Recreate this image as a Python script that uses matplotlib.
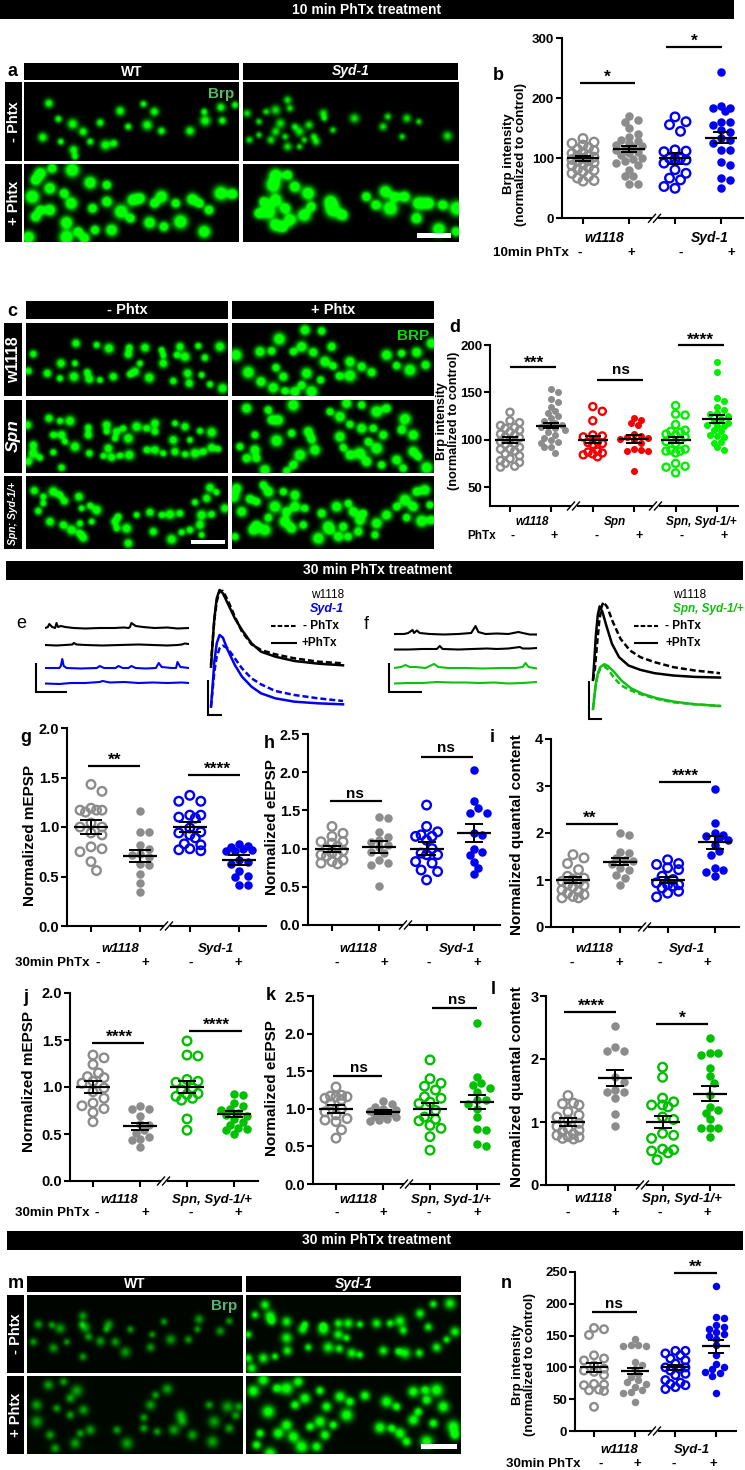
import numpy as np
import matplotlib
matplotlib.use("Agg")
import matplotlib.pyplot as plt
from matplotlib.lines import Line2D
from matplotlib.patches import Rectangle

plt.rcParams['font.family'] = ['Liberation Sans', 'DejaVu Sans']
plt.rcParams['font.weight'] = 'bold'
W, H = 745, 1470

GRAY, BLUE, RED, LIME, GREEN = '#8c8c8c', '#0000f5', '#f50000', '#00f000', '#00c000'

# ---- scatter data ----
b_w = [133,127,125,122,118,115,113,110,108,105,104,102,100,98,96,95,93,90,88,85,82,80,78,75,70,67,63,62]
b_wp = [171,163,160,150,141,135,130,128,125,122,120,118,115,113,110,108,105,100,98,95,92,88,80,70,70,57,57]
b_s = [169,161,156,145,114,112,111,100,100,98,97,92,81,75,67,64,53,50]
b_sp = [243,187,183,183,179,161,161,156,147,144,133,131,125,114,114,94,89,67,64,50]
d_w = [129,120,118,115,113,112,110,108,106,105,103,102,100,98,96,95,92,90,90,88,85,83,80,78,76,75,72,71]
d_wp = [154,150,143,140,135,130,128,125,123,120,118,116,115,113,112,110,108,105,102,100,98,97,92,92,86]
d_n = [135,130,120,105,104,103,98,97,96,95,88,87,86,85,84,82]
d_np = [123,121,118,116,106,104,103,102,101,100,97,90,89,88,88,67]
d_x = [136,127,126,116,110,109,108,106,105,103,102,100,98,96,90,89,88,88,86,75,72,71,65]
d_xp = [182,171,144,141,135,131,128,127,125,122,120,118,116,115,114,110,109,105,104,103,98,97,92,89]
g_1 = [1.43,1.36,1.19,1.17,1.17,1.17,1.15,1.04,1.0,1.0,.94,.92,.8,.78,.75,.65,.56]
g_2 = [1.16,.95,.95,.82,.78,.73,.72,.7,.63,.62,.53,.43,.34]
g_3 = [1.32,1.26,1.26,1.12,1.12,1.1,1.09,.99,.95,.94,.92,.89,.83,.82,.78,.77,.76]
g_4 = [.83,.81,.8,.78,.77,.76,.76,.67,.65,.63,.56,.51,.5,.41,.41]
h_1 = [1.29,1.2,1.16,1.09,1.09,1.07,1.03,1,.97,.94,.92,.92,.9,.85,.83,.81,.8]
h_2 = [1.42,1.40,1.22,1.15,1.11,1.09,1.05,1.02,.96,.94,.85,.81,.78,.51]
h_3 = [1.57,1.29,1.22,1.18,1.16,1.16,1.11,1,.94,.92,.92,.83,.81,.72,.7,.59]
h_4 = [2.03,1.62,1.53,1.47,1.47,1.2,1.18,1,.96,.92,.83,.75,.67]
i_1 = [1.54,1.47,1.35,1.22,1.08,1.04,1.02,.97,.94,.9,.88,.85,.79,.76,.72,.69,.65,.62,.62]
i_2 = [2.01,1.96,1.57,1.59,1.47,1.43,1.4,1.33,1.25,1.22,1.11,1.04,.9]
i_3 = [1.43,1.35,1.33,1.26,1.22,1.08,1.01,.94,.9,.9,.87,.83,.76,.72,.64]
i_4 = [2.94,2.21,2,1.96,1.93,1.89,1.86,1.75,1.61,1.54,1.26,1.22,1.18,1.09]
j_1 = [1.34,1.31,1.24,1.15,1.11,1.1,1.06,1.04,.99,.95,.88,.83,.8,.77,.73,.63]
j_2 = [.8,.77,.77,.69,.61,.6,.54,.51,.47,.45,.44,.36]
j_3 = [1.49,1.34,1.33,1.08,1.06,1.05,.99,.97,.93,.92,.9,.88,.86,.66,.54]
j_4 = [.93,.92,.83,.8,.77,.76,.72,.7,.69,.66,.63,.6,.56,.55,.54,.5]
k_1 = [1.29,1.18,1.17,1.16,1.16,1.14,1.12,1.07,1,.96,.92,.87,.85,.83,.72,.61]
k_2 = [1.1,1.06,1.03,1,.99,.97,.96,.95,.94,.93,.91,.89,.87,.85,.84]
k_3 = [1.65,1.4,1.34,1.3,1.25,1.16,1.14,1.09,1.07,.98,.89,.86,.84,.78,.74,.63,.45]
k_4 = [2.14,1.42,1.34,1.31,1.27,1.23,1.12,1.12,1.07,1,.89,.73,.72,.53,.5]
l_1 = [1.42,1.3,1.29,1.27,1.16,1.11,1.08,1.03,.98,.93,.9,.87,.85,.81,.79,.77,.76,.74,.73]
l_2 = [2.53,2.19,2.13,2.13,1.72,1.64,1.51,1.48,1.47,1.38,1.13,.94]
l_3 = [1.87,1.71,1.38,1.32,1.27,1.27,1.24,1.08,1.04,.82,.79,.74,.57,.56,.54,.51,.4]
l_4 = [2.34,2.1,2.09,2.06,1.86,1.73,1.62,1.43,1.24,1.19,1.14,1.04,.91,.91,.9,.76]
n_1 = [162,160,151,119,114,111,103,98,95,93,88,74,73,72,65,64,63,38]
n_2 = [145,136,135,133,133,108,103,98,90,85,80,77,74,69,65,61,59,46]
n_3 = [126,126,122,119,114,111,106,100,100,98,95,90,88,80,76,74,72,69,66]
n_4 = [228,180,177,166,164,161,156,153,150,145,135,119,106,100,98,93,91,86,60]

means_b, sems_b = [100,115,100,134], [4,5,9,9]
means_d, sems_d = [100,115,100,101,100,122], [3,3,4,4,3,4]
means_g, sems_g = [1,.71,1,.67], [.07,.06,.05,.05]
means_h, sems_h = [1,1.02,1,1.2], [.04,.08,.08,.12]
means_i, sems_i = [1,1.39,1,1.8], [.07,.08,.07,.14]
means_j, sems_j = [1,.58,1,.71], [.06,.04,.06,.03]
means_k, sems_k = [1,.96,1,1.09], [.05,.03,.08,.09]
means_l, sems_l = [1,1.7,1,1.45], [.06,.13,.1,.12]
means_n, sems_n = [100,94,100,133], [7,5,4,10]

# ---- electrophysiology traces ----
epsp_t = [0,3,7,12,18,25,35,50,65,85,105,135,175,225,277]
e_black_solid = [145,210,290,350,375,365,335,290,255,215,190,175,162,154,149]
e_black_dash = [150,215,285,340,372,372,345,295,250,212,195,182,170,160,155]
e_blue_solid = [25,80,160,215,240,232,195,150,115,85,65,50,40,35,32]
e_blue_dash = [25,70,130,175,200,208,200,170,140,110,92,72,60,50,42]
f_t1 = [0,3,6,10,14,20,28,40,55,75,100,130,170,215,268]
f_black_solid = [117,180,250,310,337,320,280,225,185,160,147,137,130,126,124]
f_t2 = [0,4,8,13,18,22,30,42,58,78,100,130,170,215,268]
f_black_dash = [117,150,215,290,335,350,335,290,240,205,185,170,155,145,137]
f_t3 = [0,3,6,10,15,24,32,45,60,80,105,135,170,215,268]
f_green_solid = [30,70,105,135,155,164,158,140,115,92,75,62,52,44,39]
f_green_dash = [30,70,105,132,150,157,148,122,100,85,72,60,50,44,39]

e1_t = [0,2,3,5,7,8,9,11,14,20,28,38,48,55,58,59,60,63,68,76,85,92,100]
e1_v = [0,1,4,1,0,5,1,2,1,0,-.5,0,0,.5,0,1,5,2,1,0,.5,-.5,0]
e2_t = [0,8,14,19,20,22,28,40,52,65,75,85,92,95,97,100]
e2_v = [0,-.5,0,.5,2,.5,0,-.5,0,.5,0,-.5,0,.5,1.5,1]
e3_t = [0,6,10,11,12,13,15,25,36,38,41,49,51,54,58,60,63,70,77,79,81,88,91,92,94,100]
e3_v = [0,0,0,2,9,2,0,-.5,0,2,0,0,2,0,0,2,0,-.5,0,5,1,0,0,6,1,0]
e4_t = [0,10,18,28,38,40,45,55,65,75,85,95,100]
e4_v = [-.5,-1,0,0,1,2,.5,1,0,.5,0,.5,0]
f1_t = [0,7,10,13,14,16,18,25,35,45,54,57,59,64,72,80,87,90,95,100]
f1_v = [0,0,1,4,1,3.5,1,0,-.5,0,1,8,2,0,.5,0,2,1,-.5,-.5]
f2_t = [0,10,20,30,32,34,45,55,65,72,80,88,90,95,100]
f2_v = [-.5,-.5,0,0,3,0,-.5,0,.5,0,.5,2,.5,.5,1]
f3_t = [0,5,8,11,15,22,28,31,38,50,62,75,85,90,92,94,100]
f3_v = [0,1,3,1,1,0,4,1,0,0,-.5,0,0,1,5,1,-.5]
f4_t = [0,10,20,30,40,50,60,70,80,90,100]
f4_v = [-.5,0,0,1,.5,.5,0,.5,-.5,0,1]

# ---- microscopy puncta ----
a_wt_m = [(103,310),(123,357),(153,372),(211,368),(253,333),(302,312),(325,335),(270,380),(310,375),(340,393),(400,393),(430,335),(465,322),(495,315),(432,362),(468,362),(90,412),(128,425),(175,395),(190,425),(222,435),(240,430),(155,450),(158,470)]
a_sy_m = [(605,300),(560,335),(580,330),(610,325),(680,340),(682,355),(520,340),(545,365),(590,370),(620,380),(650,375),(545,405),(570,420),(600,410),(630,395),(660,410),(605,440),(640,420),(665,425),(700,390),(745,355),(815,350),(855,355),(880,365),(805,380),(845,410),(940,408),(525,420),(580,395),(630,440)]
a_wt_p = [(85,520),(110,505),(152,510),(75,540),(190,548),(225,555),(105,565),(135,580),(68,590),(225,605),(150,610),(85,630),(105,630),(195,625),(255,635),(75,650),(140,668),(200,690),(235,690),(165,695),(140,712),(178,715),(60,712),(275,655),(315,668),(345,680),(380,665),(295,595),(340,590),(370,610),(405,598),(440,630),(465,580),(490,582),(430,695),(420,610),(280,600),(325,610)]
a_sy_p = [(580,525),(605,525),(575,555),(620,560),(648,580),(555,605),(580,600),(545,640),(565,635),(600,625),(640,645),(655,620),(580,675),(595,682),(700,630),(720,645),(695,605),(770,590),(810,575),(790,615),(820,625),(850,590),(880,610),(830,590),(900,610),(930,615),(960,625),(875,655),(922,688),(958,695),(610,660)]
c_1m = [(228,145),(290,150),(327,160),(388,158),(435,158),(485,165),(540,155),(595,153),(660,155),(100,177),(183,205),(225,205),(385,178),(530,180),(555,185),(615,188),(490,205),(420,205),(142,235),(180,250),(222,245),(262,232),(268,252),(300,255),(340,245),(390,238),(448,248),(520,258),(563,235),(605,240),(568,265),(630,268),(668,280),(85,228),(405,230),(490,180)]
c_1p = [(915,105),(965,108),(838,132),(995,155),(905,155),(880,170),(780,170),(815,168),(708,180),(940,172),(975,200),(1000,213),(1050,200),(828,218),(745,232),(850,245),(920,235),(962,255),(783,260),(1018,243),(1050,242),(1115,232),(820,278),(855,288),(885,290),(905,270),(935,290),(1085,215),(1160,180),(1205,175),(1250,172),(1190,212),(1230,225),(1277,210),(1295,145)]
c_2m = [(147,370),(180,378),(210,378),(265,398),(320,390),(320,410),(350,410),(370,400),(410,395),(440,400),(465,385),(525,385),(555,395),(600,408),(635,412),(160,420),(185,420),(195,440),(265,420),(345,430),(385,430),(465,410),(520,435),(570,435),(100,450),(160,472),(225,455),(268,475),(325,460),(310,483),(335,487),(360,482),(388,480),(440,465),(465,465),(490,475),(525,470),(555,478),(585,475),(610,470),(635,458),(655,462),(85,500),(120,488),(100,475),(185,518),(82,390)]
c_2p = [(740,340),(805,345),(880,330),(815,375),(835,375),(990,350),(1040,325),(1085,330),(1130,350),(1160,340),(1020,365),(1050,388),(1085,400),(1120,400),(1215,372),(1205,405),(1240,420),(765,420),(925,410),(875,415),(830,437),(935,432),(945,465),(720,455),(765,465),(770,490),(900,480),(880,510),(1020,425),(1030,458),(1050,480),(1105,440),(1130,460),(1150,420),(1240,470),(1255,485),(1190,495),(1145,510),(1280,518),(740,490),(795,525),(860,528),(1100,500),(1210,520),(1080,475)]
c_3m = [(103,587),(130,605),(160,590),(180,600),(237,605),(130,625),(193,618),(270,632),(290,645),(115,648),(150,680),(245,640),(190,690),(240,685),(215,705),(240,715),(250,728),(275,680),(345,680),(350,700),(380,700),(355,665),(385,745),(410,660),(450,652),(485,660),(510,658),(540,655),(630,578),(650,592),(620,610),(585,622),(605,660),(635,658),(600,690),(605,720),(460,710),(545,712),(515,733),(570,705),(675,640)]
c_3p = [(710,580),(790,570),(700,605),(750,612),(805,590),(850,590),(885,600),(770,620),(825,635),(860,650),(885,635),(915,640),(725,650),(805,668),(855,680),(770,690),(760,705),(705,725),(875,700),(910,690),(795,705),(965,655),(1010,635),(1045,625),(1060,650),(1090,655),(985,695),(1030,695),(1080,675),(990,705),(1015,725),(1045,725),(955,730),(1075,710),(1130,685),(1125,720),(1160,660),(1190,635),(1215,615),(1250,590),(1275,585),(1290,630),(1240,635),(1220,668),(1265,678),(1295,675)]
m_wt_m = [(115,300),(155,302),(180,312),(100,352),(160,370),(200,352),(248,275),(245,300),(255,310),(265,337),(325,300),(318,315),(345,352),(390,315),(375,382),(248,396),(300,350),(455,330),(450,368),(490,292),(510,345),(563,345),(595,285),(590,315),(658,320),(685,290)]
m_sy_m = [(795,242),(765,272),(810,275),(815,290),(860,292),(915,300),(908,315),(970,305),(970,315),(1015,297),(1045,297),(1080,300),(1130,297),(1170,297),(1200,290),(1210,318),(1015,330),(1040,340),(1260,268),(1300,240),(1350,238),(1285,308),(1365,322),(1340,345),(1310,368),(745,330),(860,340),(745,400),(790,400),(825,395),(862,378),(925,368),(985,368),(1018,372),(1055,385),(1080,390),(1150,378),(1195,380),(1215,385),(1258,385),(755,430)]
m_wt_p = [(145,480),(190,470),(230,497),(210,520),(110,540),(170,550),(250,555),(210,570),(110,590),(150,630),(225,655),(240,625),(270,615),(350,615),(380,655),(165,670),(500,492),(465,510),(450,540),(625,540),(680,545),(715,545),(540,570),(430,578),(545,590),(705,572),(640,590),(685,610),(520,615),(470,620),(575,630),(430,610),(635,650)]
m_sy_p = [(790,465),(830,490),(860,490),(895,470),(760,498),(960,497),(915,520),(885,540),(805,560),(980,545),(960,590),(930,605),(1020,515),(1050,530),(1040,570),(1095,512),(1160,530),(1190,545),(1240,500),(1275,495),(1310,495),(1280,525),(1330,545),(1255,560),(1240,585),(1300,595),(1360,605),(1365,630),(1140,608),(1175,610),(1200,625),(1220,650),(1280,650),(975,630),(880,635),(780,625),(835,625),(770,660),(905,665),(950,665),(810,685),(1000,600),(860,600)]

fig = plt.figure(figsize=(W/100, H/100), dpi=100, facecolor='white')


def axpx(x0, y0, x1, y1, **kw):
    return fig.add_axes([x0/W, 1-y1/H, (x1-x0)/W, (y1-y0)/H], **kw)


def txt(x, y, s, ha='center', va='center', size=10, color='k', style='normal', rot=0, weight='bold'):
    fig.text(x/W, 1-y/H, s, ha=ha, va=va, fontsize=size, color=color, style=style,
             rotation=rot, fontweight=weight, zorder=12, linespacing=1.05)


def line(x0, y0, x1, y1, lw=1.5, color='k', **kw):
    fig.add_artist(Line2D([x0/W, x1/W], [1-y0/H, 1-y1/H], lw=lw, color=color,
                          transform=fig.transFigure, solid_capstyle='butt', zorder=9, **kw))


def box(x0, y0, x1, y1, color='k', z=5):
    fig.add_artist(Rectangle((x0/W, 1-y1/H), (x1-x0)/W, (y1-y0)/H, facecolor=color,
                             edgecolor='none', transform=fig.transFigure, zorder=z))


def image(x0, y0, x1, y1, blobs, ox, oy, sx, sy, sigma=3.2, amp=1.6, bg=0.0):
    nx, ny = int((x1-x0)*2), int((y1-y0)*2)
    yy, xx = np.mgrid[0:ny, 0:nx]
    xx = x0 + (xx+.5)/2
    yy = y0 + (yy+.5)/2
    v = np.full(xx.shape, float(bg))
    sizes = (1.0, .82, 1.18, .9, 1.06, .78)
    for k, (zx, zy) in enumerate(blobs):
        px, py = ox + zx/sx, oy + zy/sy
        s = sigma*sizes[k % 6]
        v += amp*np.exp(-((xx-px)**2+(yy-py)**2)/(2*s*s))
    v = np.clip(v, 0, 1)
    rgb = np.dstack([v*0.02, v, v*0.02])
    ax = axpx(x0, y0, x1, y1)
    ax.imshow(rgb, aspect='auto', interpolation='bilinear')
    ax.axis('off')


def swarm(vals, ppu, diam, maxw):
    order = np.argsort(vals)[::-1]
    placed = []
    off = np.zeros(len(vals))
    step = diam*0.5
    n = int(maxw/step)
    cands = [0.0]
    for i in range(1, n+1):
        cands += [i*step, -i*step]
    for idx in order:
        y = vals[idx]*ppu
        best, bd = 0.0, -1
        for c in cands:
            d = min([np.hypot(c-px, y-py) for px, py in placed] or [1e9])
            if d >= diam*0.82:
                best, bd = c, d
                break
            if d > bd:
                best, bd = c, d
        off[idx] = best
        placed.append((best, y))
    return off


def panel(x_ax, y_top, x_end, y_bot, ylim, yticks, fmt, t0, sp, groups, cols, fills, means, sems,
          breaks=(), dot=8.5, ring=11, tsize=10.5, hw=16, cw=8, maxw=16):
    ax = axpx(x_ax, y_top, x_end, y_bot)
    ax.patch.set_alpha(0)
    ax.set_ylim(*ylim)
    ax.set_xlim((x_ax-t0)/sp, (x_end-t0)/sp)
    ppu = (y_bot-y_top)/(ylim[1]-ylim[0])
    for i, (vals, c, f) in enumerate(zip(groups, cols, fills)):
        v = np.array(vals, float)
        off = swarm(v, ppu, dot if f else ring, maxw)/sp
        if f:
            ax.scatter(i+off, v, s=(dot*.72)**2, c=c, linewidths=0, clip_on=False, zorder=3)
        else:
            d = ring-2.4
            ax.scatter(i+off, v, s=(d*.72)**2, facecolors='none', edgecolors=c, linewidths=1.7,
                       clip_on=False, zorder=3)
        ax.plot([i-hw/sp, i+hw/sp], [means[i]]*2, color='k', lw=1.6, zorder=4, solid_capstyle='butt')
        ax.plot([i, i], [means[i]-sems[i], means[i]+sems[i]], color='k', lw=1.4, zorder=4)
        for s in (-1, 1):
            ax.plot([i-cw/sp, i+cw/sp], [means[i]+s*sems[i]]*2, color='k', lw=1.4, zorder=4,
                    solid_capstyle='butt')
    for s in ('top', 'right'):
        ax.spines[s].set_visible(False)
    for s in ('left', 'bottom'):
        ax.spines[s].set_linewidth(1.5)
    ax.set_yticks(yticks)
    ax.set_yticklabels([fmt % t for t in yticks], fontsize=tsize, fontweight='bold')
    ax.set_xticks(range(len(groups)))
    ax.set_xticklabels([])
    ax.tick_params(length=4, width=1.5, pad=1.5)
    for bx in breaks:
        box(bx-3, y_bot-2, bx+3, y_bot+2, 'white', 6)
        for dx in (-3, 2):
            fig.add_artist(Line2D([(bx+dx-3.5)/W, (bx+dx+3.5)/W], [1-(y_bot+4)/H, 1-(y_bot-4)/H], lw=1,
                                  color='k', transform=fig.transFigure, zorder=7))
    return ax


def sig(x0, x1, y, label, lx, ly):
    line(x0, y, x1, y, lw=1.6)
    if label == 'ns':
        txt(lx, ly+4.5, 'ns', va='baseline', size=11)
    else:
        txt(lx, ly+9.5, label, va='baseline', size=12.5)


def trace(x0, y0, x1, y1, xlim, ylim, series):
    ax = axpx(x0, y0, x1, y1)
    ax.patch.set_alpha(0)
    ax.set_xlim(*xlim)
    ax.set_ylim(*ylim)
    ax.axis('off')
    for t, v, c, ls in series:
        ax.plot(t, v, color=c, lw=1.8, ls=ls, clip_on=False,
                **({'dashes': (2.4, 1.2)} if ls == '--' else {}))


def mini(x0, x1, yc, t, v, c):
    ax = axpx(x0, yc-12, x1, yc+12)
    ax.patch.set_alpha(0)
    ax.set_xlim(0, 100)
    ax.set_ylim(-12, 12)
    ax.axis('off')
    ax.plot(t, v, color=c, lw=1.5)


# -------- banners --------
box(0, 0, 734, 19)
txt(367, 9.5, '10 min PhTx treatment', color='w', size=10)
box(6, 561, 743, 580)
txt(378, 570.5, '30 min PhTx treatment', color='w', size=10)
box(7, 1231, 743, 1250)
txt(377, 1240.5, '30 min PhTx treatment', color='w', size=10)

# -------- panel a --------
for (x0, x1, s, st) in [(24, 239, 'WT', 'normal'), (243, 458, 'Syd-1', 'italic')]:
    box(x0, 63, x1, 80)
    txt((x0+x1)/2, 71.5, s, color='w', size=10, style=st)
for (y0, y1, s) in [(82, 161, '- Phtx'), (164, 242, '+ Phtx')]:
    box(5, y0, 22, y1)
    txt(13.5, (y0+y1)/2, s, color='w', size=10.5, rot=90)
image(24, 82, 239, 161, a_wt_m, 0, 0, 2.105, 3, 3.0, 1.2)
image(243, 82, 458, 161, a_sy_m, 0, 0, 2.105, 3, 2.8, 0.95)
image(24, 164, 239, 242, a_wt_p, 0, 0, 2.105, 3, 3.9, 1.7)
image(243, 164, 458, 242, a_sy_p, 0, 0, 2.105, 3, 4.1, 1.7)
box(417, 233, 451, 238, 'white', 8)
txt(221, 94, 'Brp', color='#55bb66', size=11)
txt(12, 71, 'a', size=13)

# -------- panel b --------
panel(561.5, 38.3, 743, 218.3, (0, 300), [0, 100, 200, 300], '%d', 583, 46,
      [b_w, b_wp, b_s, b_sp], [GRAY, GRAY, BLUE, BLUE], [0, 1, 0, 1], means_b, sems_b, breaks=[655],
      dot=8.5, ring=11, tsize=9.5, hw=16, cw=8, maxw=14)
sig(580, 635, 83, '*', 607, 72)
sig(666, 722, 47, '*', 694, 36)
txt(498, 75, 'b', size=13)
txt(515, 154, 'Brp intensity\n(normalized to control)', size=9.5, rot=90)
txt(604, 238, 'w1118', size=10, style='italic')
txt(710, 238, 'Syd-1', size=10, style='italic')
txt(493, 253, '10min PhTx', ha='left', size=9.7)
for x, s in zip([580, 631, 681, 731], '-+-+'):
    txt(x, 253, s, size=9.5)

# -------- panel c --------
for (x0, x1, s) in [(26, 228, '- Phtx'), (232, 434, '+ Phtx')]:
    box(x0, 301, x1, 319)
    txt((x0+x1)/2, 310, s, color='w', size=10.5)
box(4, 323, 22, 396)
box(4, 400, 22, 473)
box(4, 476, 22, 549)
txt(13.5, 360, 'w1118', color='w', size=11.5, rot=90)
txt(13.5, 436, 'Spn', color='w', size=12.5, rot=90, style='italic')
txt(13.5, 513, 'Spn; Syd-1/+', color='w', size=7.5, rot=90, style='italic')
rows = [(323, 396, c_1m, c_1p), (400, 473, c_2m, c_2p), (476, 549, c_3m, c_3p)]
for y0, y1, bm, bp in rows:
    image(26, y0, 228, y1, bm, 0, 295, 3, 3, 2.9, 1.4)
    image(232, y0, 434, y1, bp, 0, 295, 3, 3, 3.4, 1.6)
box(191, 540, 225, 544, 'white', 8)
txt(413, 336, 'BRP', color='#00e000', size=11)
txt(12, 312, 'c', size=13)

# -------- panel d --------
panel(490, 345, 738, 506, (30, 200), [50, 100, 150, 200], '%d', 510, 41.4,
      [d_w, d_wp, d_n, d_np, d_x, d_xp], [GRAY, GRAY, RED, RED, LIME, LIME], [0, 1, 0, 1, 0, 1],
      means_d, sems_d, breaks=[574, 656], dot=7, ring=9.5, tsize=9.5, hw=15, cw=8, maxw=14)
sig(510, 556, 367, '***', 534, 358)
sig(597, 643, 380, 'ns', 621, 370)
sig(678, 724, 345, '****', 700, 335)
txt(455, 327, 'd', size=13)
txt(448, 421, 'Brp intensity\n(normalized to control)', size=9.2, rot=90)
txt(532, 522, 'w1118', size=8.5, style='italic')
txt(615, 522, 'Spn', size=8.5, style='italic')
txt(701, 522, 'Spn, Syd-1/+', size=8.5, style='italic')
txt(467, 536, 'PhTx', ha='left', size=8.5)
for x, s in zip([513, 554, 597, 639, 682, 724], '-+-+-+'):
    txt(x, 536, s, size=9)

# -------- panel e --------
txt(21, 624, 'e', size=13, weight='normal')
mini(45, 189, 628, e1_t, e1_v, 'k')
mini(45, 189, 645, e2_t, e2_v, 'k')
mini(45, 189, 668, e3_t, e3_v, BLUE)
mini(45, 189, 683, e4_t, e4_v, BLUE)
line(36, 663, 36, 692)
line(35.3, 692, 67, 692)
trace(211, 590, 343, 715, (0, 277), (0, 375),
      [(epsp_t, e_black_dash, 'k', '--'), (epsp_t, e_black_solid, 'k', '-'),
       (epsp_t, e_blue_dash, BLUE, '--'), (epsp_t, e_blue_solid, BLUE, '-')])
line(208, 680, 208, 715)
line(207.3, 715, 222, 715)
txt(328, 595, 'w1118', size=8.5, weight='normal')
txt(327, 609, 'Syd-1', size=9, color=BLUE, style='italic')
line(271, 626, 297, 626, ls=(0, (2.2, 1)))
txt(303, 626, '- PhTx', ha='left', size=8.5)
line(271, 643, 297, 643)
txt(302, 643, '+PhTx', ha='left', size=8.5)

# -------- panel f --------
txt(366, 625, 'f', size=13, weight='normal')
mini(394, 537, 634, f1_t, f1_v, 'k')
mini(394, 537, 649, f2_t, f2_v, 'k')
mini(394, 537, 668, f3_t, f3_v, '#10c010')
mini(394, 537, 683, f4_t, f4_v, '#10c010')
line(389, 663, 389, 692)
line(388.3, 692, 422, 692)
trace(593, 602, 720, 719, (0, 268), (0, 350),
      [(f_t2, f_black_dash, 'k', '--'), (f_t1, f_black_solid, 'k', '-'),
       (f_t3, f_green_dash, '#10c010', '--'), (f_t3, f_green_solid, '#10c010', '-')])
line(589, 681, 589, 719)
line(588.3, 719, 602, 719)
txt(690, 595, 'w1118', size=8.5, weight='normal')
txt(708, 609, 'Spn, Syd-1/+', size=8.5, color='#10c010', style='italic')
line(634, 626, 658, 626, ls=(0, (2.2, 1)))
txt(665, 626, '- PhTx', ha='left', size=8.5)
line(634, 643, 658, 643)
txt(665, 643, '+PhTx', ha='left', size=8.5)

# -------- panel g --------
panel(67, 728, 266, 926, (0, 2), [0, .5, 1, 1.5, 2], '%.1f', 91, 49.4,
      [g_1, g_2, g_3, g_4], [GRAY, GRAY, BLUE, BLUE], [0, 1, 0, 1], means_g, sems_g, breaks=[167],
      hw=17, cw=11, maxw=16)
sig(88, 140, 766, '**', 115, 755)
sig(188, 240, 775, '****', 217, 764)
txt(26, 737, 'g', size=13)
txt(30, 835, 'Normalized mEPSP', size=11, rot=90)
txt(120, 949, 'w1118', size=9.5, style='italic')
txt(216, 949, 'Syd-1', size=9.5, style='italic')
txt(15, 963, '30min PhTx', ha='left', size=9.5)
for x, s in zip([98, 145, 191, 238], '-+-+'):
    txt(x, 963, s, size=9.5)

# -------- panel h --------
panel(308, 734, 500, 925, (0, 2.5), [0, .5, 1, 1.5, 2, 2.5], '%.1f', 332, 47.3,
      [h_1, h_2, h_3, h_4], [GRAY, GRAY, BLUE, BLUE], [0, 1, 0, 1], means_h, sems_h, breaks=[406],
      hw=17, cw=9, maxw=16)
sig(330, 382, 801, 'ns', 355, 793)
sig(421, 473, 757, 'ns', 446, 748)
txt(269, 743, 'h', size=13)
txt(272, 827, 'Normalized eEPSP', size=11, rot=90)
txt(358, 949, 'w1118', size=9.5, style='italic')
txt(457, 949, 'Syd-1', size=9.5, style='italic')
for x, s in zip([337, 384, 429, 477], '-+-+'):
    txt(x, 963, s, size=9.5)

# -------- panel i --------
panel(551, 739, 739, 927, (0, 4), [0, 1, 2, 3, 4], '%d', 573, 47.3,
      [i_1, i_2, i_3, i_4], [GRAY, GRAY, BLUE, BLUE], [0, 1, 0, 1], means_i, sems_i, breaks=[645],
      hw=17, cw=9, maxw=16)
sig(566, 618, 824, '**', 590, 813)
sig(659, 711, 782, '****', 685, 771)
txt(492, 738, 'i', size=13)
txt(517, 835, 'Normalized quantal content', size=11, rot=90)
txt(594, 949, 'w1118', size=9.5, style='italic')
txt(687, 949, 'Syd-1', size=9.5, style='italic')
for x, s in zip([572, 619, 660, 707], '-+-+'):
    txt(x, 963, s, size=9.5)

# -------- panel j --------
panel(70, 993, 258, 1181, (0, 2), [0, .5, 1, 1.5, 2], '%.1f', 93, 47,
      [j_1, j_2, j_3, j_4], [GRAY, GRAY, GREEN, GREEN], [0, 1, 0, 1], means_j, sems_j, breaks=[164],
      hw=17, cw=9, maxw=16)
sig(92, 144, 1043, '****', 119, 1032)
sig(189, 242, 1031, '****', 216, 1020)
txt(26, 997, 'j', size=13)
txt(29, 1082, 'Normalized mEPSP', size=11, rot=90)
txt(119, 1200, 'w1118', size=9.5, style='italic')
txt(212, 1200, 'Spn, Syd-1/+', size=9.5, style='italic')
txt(15, 1213, '30min PhTx', ha='left', size=9.5)
for x, s in zip([97, 145, 191, 238], '-+-+'):
    txt(x, 1213, s, size=9.5)

# -------- panel k --------
panel(313, 996, 499, 1184, (0, 2.5), [0, .5, 1, 1.5, 2, 2.5], '%.1f', 336, 47,
      [k_1, k_2, k_3, k_4], [GRAY, GRAY, GREEN, GREEN], [0, 1, 0, 1], means_k, sems_k, breaks=[407],
      hw=17, cw=9, maxw=16)
sig(333, 382, 1076, 'ns', 359, 1067)
sig(432, 477, 1008, 'ns', 457, 999)
txt(271, 996, 'k', size=13)
txt(272, 1088, 'Normalized eEPSP', size=11, rot=90)
txt(358, 1200, 'w1118', size=9.5, style='italic')
txt(451, 1200, 'Spn, Syd-1/+', size=9.5, style='italic')
for x, s in zip([337, 383, 429, 477], '-+-+'):
    txt(x, 1213, s, size=9.5)

# -------- panel l --------
panel(546, 996, 734, 1185, (0, 3), [0, 1, 2, 3], '%d', 568, 47.3,
      [l_1, l_2, l_3, l_4], [GRAY, GRAY, GREEN, GREEN], [0, 1, 0, 1], means_l, sems_l, breaks=[643],
      hw=17, cw=9, maxw=16)
sig(564, 616, 1012, '****', 591, 1001)
sig(656, 708, 1024, '*', 682, 1013)
txt(493, 989, 'l', size=13)
txt(517, 1087, 'Normalized quantal content', size=11, rot=90)
txt(593, 1199, 'w1118', size=9.5, style='italic')
txt(682, 1199, 'Spn, Syd-1/+', size=9.5, style='italic')
for x, s in zip([568, 615, 660, 707], '-+-+'):
    txt(x, 1213, s, size=9.5)

# -------- panel m --------
for (x0, x1, s, st) in [(27, 242, 'WT', 'normal'), (246, 461, 'Syd-1', 'italic')]:
    box(x0, 1276, x1, 1292)
    txt((x0+x1)/2, 1284, s, color='w', size=10, style=st)
for (y0, y1, s) in [(1295, 1373, '- Phtx'), (1376, 1454, '+ Phtx')]:
    box(7, y0, 24, y1)
    txt(15.5, (y0+y1)/2, s, color='w', size=10.5, rot=90)
image(27, 1295, 242, 1373, m_wt_m, 0, 1225, 3, 3, 3.0, 0.6, 0.02)
image(246, 1295, 461, 1373, m_sy_m, 0, 1225, 3, 3, 3.2, 1.0, 0.03)
image(27, 1376, 242, 1454, m_wt_p, 0, 1225, 3, 3, 3.4, 0.62, 0.03)
image(246, 1376, 461, 1454, m_sy_p, 0, 1225, 3, 3, 3.7, 1.15, 0.03)
box(421, 1444, 457, 1449, 'white', 8)
txt(224, 1306, 'Brp', color='#55b870', size=11)
txt(16, 1283, 'm', size=13)

# -------- panel n --------
panel(575, 1272, 736, 1431, (0, 250), [0, 50, 100, 150, 200, 250], '%d', 594, 40.7,
      [n_1, n_2, n_3, n_4], [GRAY, GRAY, BLUE, BLUE], [0, 1, 0, 1], means_n, sems_n, breaks=[655],
      dot=7.5, ring=10, tsize=9.5, hw=14, cw=8, maxw=14)
sig(592, 637, 1312, 'ns', 614, 1303)
sig(674, 717, 1273, '**', 696, 1262)
txt(506, 1283, 'n', size=13)
txt(524, 1365, 'Brp intensity\n(normalized to control)', size=9.5, rot=90)
txt(619, 1450, 'w1118', size=9.5, style='italic')
txt(692, 1450, 'Syd-1', size=9.5, style='italic')
txt(506, 1464, '30min PhTx', ha='left', size=9.5)
for x, s in zip([601, 637, 674, 713], '-+-+'):
    txt(x, 1464, s, size=9.5)

fig.savefig('out.png', dpi=100)
